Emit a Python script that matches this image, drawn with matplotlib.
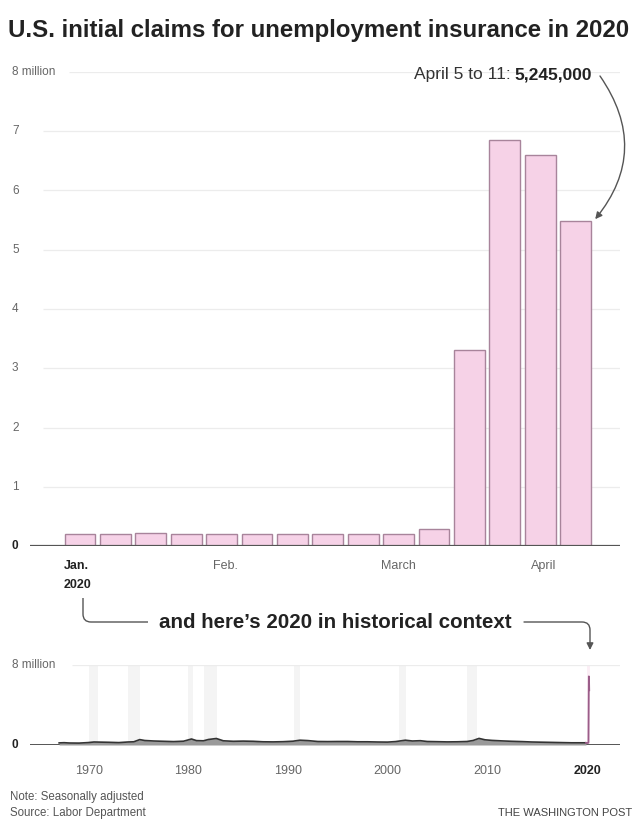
import matplotlib
matplotlib.use('Agg')
import matplotlib.pyplot as plt
import matplotlib.transforms as mtransforms
from matplotlib.path import Path
from matplotlib.patches import FancyArrowPatch, PathPatch
import pandas as pd

plt.rcParams['font.family'] = ['Liberation Sans', 'DejaVu Sans']

# weekly initial claims 2020 (millions), week ending Jan 4 .. Apr 11
week_ending = pd.date_range('2020-01-04', periods=15, freq='7D')
claims_2020 = [0.21, 0.21, 0.22, 0.21, 0.20, 0.20, 0.21, 0.21, 0.21, 0.21,
               0.28, 3.30, 6.86, 6.60, 5.48]
month_ticks = [0, 4.1, 9.0, 13.1]
month_labels = ['Jan.', 'Feb.', 'March', 'April']

# historical context (millions)
hist_years = [1967.0, 1967.5, 1968.0, 1969.0, 1969.9, 1970.5, 1971.0, 1972.0, 1973.0,
              1973.9, 1974.5, 1975.1, 1975.6, 1976.5, 1977.5, 1978.5, 1979.5, 1980.3,
              1980.8, 1981.5, 1982.0, 1982.8, 1983.5, 1984.5, 1985.5, 1986.5, 1987.5,
              1988.5, 1989.5, 1990.5, 1991.2, 1992.0, 1993.0, 1994.0, 1995.0, 1996.0,
              1997.0, 1998.0, 1999.0, 2000.0, 2000.8, 2001.8, 2002.5, 2003.3, 2004.0,
              2005.0, 2006.0, 2007.0, 2008.0, 2008.6, 2009.2, 2009.8, 2010.5, 2011.5,
              2012.5, 2013.5, 2014.5, 2015.5, 2016.5, 2017.5, 2018.5, 2019.5, 2019.95]
hist_claims = [0.21, 0.23, 0.20, 0.19, 0.24, 0.30, 0.29, 0.27, 0.24,
               0.30, 0.32, 0.54, 0.45, 0.40, 0.37, 0.34, 0.38, 0.60,
               0.44, 0.42, 0.55, 0.65, 0.42, 0.37, 0.39, 0.37, 0.32,
               0.31, 0.33, 0.38, 0.48, 0.44, 0.35, 0.34, 0.35, 0.35,
               0.32, 0.32, 0.30, 0.29, 0.34, 0.48, 0.40, 0.43, 0.35,
               0.33, 0.31, 0.32, 0.35, 0.45, 0.66, 0.52, 0.46, 0.41,
               0.37, 0.34, 0.30, 0.28, 0.26, 0.24, 0.22, 0.22, 0.22]
recessions = [(1969.95, 1970.9), (1973.9, 1975.1), (1980.0, 1980.5), (1981.6, 1982.9),
              (1990.6, 1991.2), (2001.2, 2001.9), (2007.95, 2009.0)]
decade_ticks = [1970, 1980, 1990, 2000, 2010]

W, H = 637, 821
fig = plt.figure(figsize=(W / 100, H / 100), dpi=100)
fig.patch.set_facecolor('white')


def fx(p):
    return p / W


def fy(p):
    return 1 - p / H


PINK = '#f6d2e7'
EDGE = '#a8849b'
GRAY = '#666666'
DARK = '#222222'

# title
fig.text(fx(8), fy(30), 'U.S. initial claims for unemployment insurance in 2020',
         fontsize=17.3, fontweight='bold', color=DARK, va='center', ha='left')

# ---------------- top chart ----------------
ax = fig.add_axes([fx(30), fy(546), fx(590), (546 - 72) / H])
x = list(range(len(claims_2020)))
ax.bar(x, claims_2020, width=0.87, color=PINK, edgecolor=EDGE, linewidth=1, zorder=3)
ax.set_xlim(-1.41, 15.25)
ax.set_ylim(0, 8)
ax.axis('off')
for v in range(1, 8):
    ax.hlines(v, -1.05, 15.25, color='#ececec', lw=0.9, zorder=1)
ax.hlines(8, -0.3, 15.25, color='#ececec', lw=0.9, zorder=1)
ax.hlines(0, -1.41, 15.25, color='#555555', lw=1.6, zorder=4)

yt = mtransforms.blended_transform_factory(fig.transFigure, ax.transData)
for v in range(0, 9):
    lab = '8 million' if v == 8 else str(v)
    ax.text(fx(12), v, lab, transform=yt, fontsize=8.5, color=GRAY if v else DARK,
            ha='left', va='center', fontweight='bold' if v == 0 else 'normal')

xt = mtransforms.blended_transform_factory(ax.transData, fig.transFigure)
for pos, lab in zip(month_ticks, month_labels):
    if lab == 'Jan.':
        ax.text(-0.45, fy(566), 'Jan.', transform=xt, fontsize=9, color=DARK,
                fontweight='bold', ha='left', va='center')
        ax.text(-0.45, fy(585), '2020', transform=xt, fontsize=9, color=DARK,
                fontweight='bold', ha='left', va='center')
    else:
        ax.text(pos, fy(566), lab, transform=xt, fontsize=9, color=GRAY,
                ha='center', va='center')

# annotation for last week
r = fig.canvas.get_renderer()
t_bold = fig.text(fx(592), fy(75), '5,245,000', fontsize=12.5, fontweight='bold',
                  color=DARK, ha='right', va='center')
bb = t_bold.get_window_extent(renderer=r)
fig.text(bb.x0 / W - fx(4), fy(75), 'April 5 to 11:', fontsize=12.5, color='#333333',
         ha='right', va='center')
ax.annotate('', xy=(14 + 0.5, claims_2020[-1]), xycoords='data',
            xytext=(fx(600), fy(76)), textcoords='figure fraction',
            arrowprops=dict(arrowstyle='-|>,head_length=0.4,head_width=0.2',
                            color='#555555', lw=1,
                            connectionstyle='arc3,rad=-0.38',
                            shrinkA=0, shrinkB=2))

# ---------------- connector ----------------
left = Path([(fx(83), fy(598)), (fx(83), fy(614)), (fx(83), fy(622)), (fx(91), fy(622)),
             (fx(148), fy(622))],
            [Path.MOVETO, Path.LINETO, Path.CURVE3, Path.CURVE3, Path.LINETO])
fig.patches.append(PathPatch(left, transform=fig.transFigure, fill=False,
                             edgecolor='#555555', lw=1))
right = Path([(fx(524), fy(622)), (fx(582), fy(622)), (fx(590), fy(622)), (fx(590), fy(630)),
              (fx(590), fy(650))],
             [Path.MOVETO, Path.LINETO, Path.CURVE3, Path.CURVE3, Path.LINETO])
fig.patches.append(FancyArrowPatch(path=right, transform=fig.transFigure,
                                   arrowstyle='-|>,head_length=4,head_width=2',
                                   color='#555555', lw=1))
fig.text(fx(335), fy(622), 'and here\u2019s 2020 in historical context', fontsize=14.8,
         fontweight='bold', color=DARK, ha='center', va='center')

# ---------------- bottom chart ----------------
ax2 = fig.add_axes([fx(30), fy(745), fx(590), 80 / H])
ax2.set_xlim(1964.07, 2023.37)
ax2.set_ylim(0, 8)
ax2.axis('off')
for a, b in recessions:
    ax2.axvspan(a, b, color='#f4f4f4', lw=0, zorder=0)
ax2.axvspan(2020.1, 2020.4, color='#fbeef5', lw=0, zorder=0)
ax2.hlines(8, 1968.3, 2023.37, color='#ececec', lw=0.9, zorder=1)
ax2.hlines(0, 1964.07, 2023.37, color='#555555', lw=1.4, zorder=2)
ax2.fill_between(hist_years, 0, hist_claims, color='#9a9a9a', lw=0, zorder=3)
ax2.plot(hist_years, hist_claims, color='#333333', lw=1.2, zorder=4)

yrs_2020 = [d.year + (d.dayofyear - 1) / 366 for d in week_ending]
ax2.plot([hist_years[-1]] + yrs_2020, [hist_claims[-1]] + claims_2020,
         color='#9b5d89', lw=1.3, zorder=5)

yt2 = mtransforms.blended_transform_factory(fig.transFigure, ax2.transData)
ax2.text(fx(12), 8, '8 million', transform=yt2, fontsize=8.5, color=GRAY,
         ha='left', va='center')
ax2.text(fx(12), 0, '0', transform=yt2, fontsize=8.5, color=DARK, fontweight='bold',
         ha='left', va='center')
xt2 = mtransforms.blended_transform_factory(ax2.transData, fig.transFigure)
for yv in decade_ticks:
    ax2.text(yv, fy(771), str(yv), transform=xt2, fontsize=9, color=GRAY,
             ha='center', va='center')
ax2.text(2020.15, fy(771), '2020', transform=xt2, fontsize=9, color=DARK,
         fontweight='bold', ha='center', va='center')

# footer
fig.text(fx(10), fy(797), 'Note: Seasonally adjusted', fontsize=8.3, color='#555555',
         ha='left', va='center')
fig.text(fx(10), fy(813), 'Source: Labor Department', fontsize=8.3, color='#555555',
         ha='left', va='center')
fig.text(fx(632), fy(813), 'THE WASHINGTON POST', fontsize=8, color='#444444',
         ha='right', va='center')

fig.savefig('out.png', dpi=100, facecolor='white')
